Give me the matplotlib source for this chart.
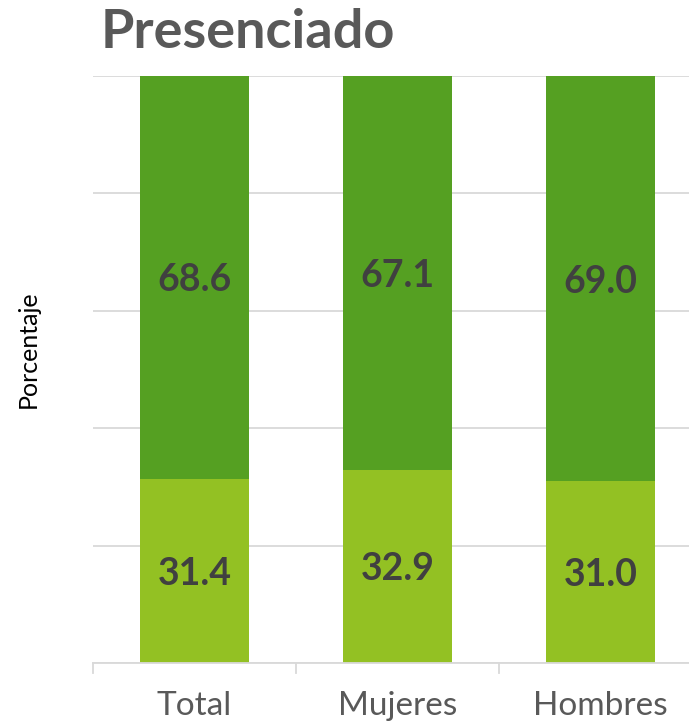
import numpy as np
import matplotlib.pyplot as plt

plt.rcParams['font.family'] = ['Lato', 'DejaVu Sans']

categories = ['Total', 'Mujeres', 'Hombres']
low_share = [31.4, 32.9, 31.0]
high_share = [68.6, 67.1, 69.0]

LIGHT = '#93C123'
DARK = '#55A022'
TEXT = '#404040'

fig = plt.figure(figsize=(6.89, 7.21), dpi=100)
# axes runs slightly past the right edge of the figure
ax = fig.add_axes([93 / 689, 1 - 663 / 721, 609 / 689, 587 / 721])

x = np.arange(len(categories))
width = 0.54
ax.bar(x, low_share, width, color=LIGHT, zorder=2)
ax.bar(x, high_share, width, bottom=low_share, color=DARK, zorder=2)

for xi, lo, hi in zip(x, low_share, high_share):
    ax.text(xi, lo / 2, f'{lo:.1f}', ha='center', va='center_baseline',
            fontsize=27, fontweight='bold', color=TEXT, zorder=3)
    ax.text(xi, lo + hi / 2, f'{hi:.1f}', ha='center', va='center_baseline',
            fontsize=27, fontweight='bold', color=TEXT, zorder=3)

ax.set_xlim(-0.5, len(categories) - 0.5)
ax.set_ylim(0, 100)
ax.set_yticks(np.arange(0, 101, 20))
ax.yaxis.grid(True, color='#D9D9D9', linewidth=1.3, zorder=0)
ax.tick_params(axis='y', left=False, labelleft=False)

ax.set_xticks(x)
ax.set_xticklabels(categories, fontsize=24, color='#595959')
ax.tick_params(axis='x', length=0, pad=20)
# category separators on the baseline
for b in np.arange(-0.5, len(categories), 1.0):
    ax.plot([b, b], [0, -1.7], color='#D9D9D9', linewidth=1.3,
            clip_on=False, zorder=1)

for side in ['top', 'right', 'left']:
    ax.spines[side].set_visible(False)
ax.spines['bottom'].set_color('#D9D9D9')
ax.spines['bottom'].set_linewidth(1.3)

fig.text(28 / 689, 1 - 349 / 721, 'Porcentaje', rotation=90,
         ha='center', va='center', fontsize=18, color='black')
fig.text(101 / 689, 1 - 33 / 721, 'Presenciado', ha='left', va='center',
         fontsize=39, fontweight='bold', color='#595959')

plt.savefig('out.png', dpi=100)
